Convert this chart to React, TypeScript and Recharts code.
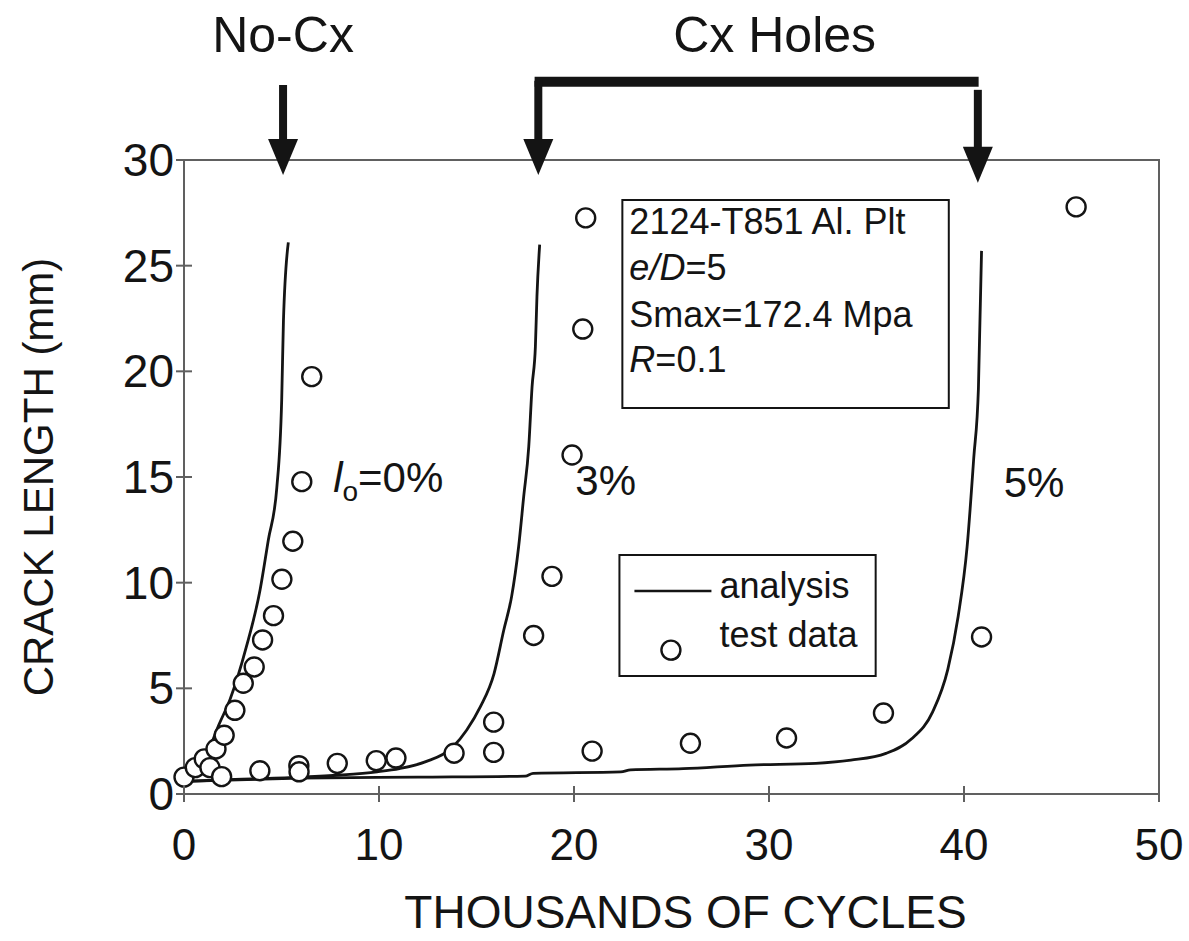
import React from 'react';
import {
  ComposedChart,
  Line,
  Scatter,
  XAxis,
  YAxis,
  ReferenceLine,
  ReferenceArea,
  ReferenceDot,
  Label,
} from 'recharts';

const FONT = '"Liberation Sans", Arial, Helvetica, sans-serif';
const INK = '#141414';
const FRAME = '#606060';

const xTicks = [0, 10, 20, 30, 40, 50];
const yTicks = [0, 5, 10, 15, 20, 25, 30];

// Analysis curves: crack length (mm) vs thousands of cycles
const cyclesIo0 = [0, 0.4, 1.0, 1.33, 1.8, 2.35, 3.2, 3.9, 4.32, 4.76, 5.01, 5.1, 5.35];
const lengthIo0 = [0.6, 0.85, 1.75, 2.24, 3.3, 4.45, 6.97, 9.65, 12.0, 14.5, 18.65, 22.4, 26.1];

const cyclesIo3 = [0, 3, 6, 8, 9.9, 11.05, 12.4, 13.8, 14.5, 15.2, 15.9, 16.4, 16.8, 17.16, 17.42, 17.68, 17.85, 18.02, 18.1, 18.24];
const lengthIo3 = [0.6, 0.7, 0.8, 0.9, 1.05, 1.2, 1.53, 2.24, 3.03, 4.13, 5.7, 7.76, 9.34, 11.7, 14.07, 16.44, 19.28, 21.17, 23.54, 26.0];

const cyclesIo5 = [0, 6, 12, 17.5, 17.9, 22.4, 22.9, 25.6, 29, 32.4, 34.2, 36, 37.3, 38.4, 39.17, 39.7, 40.16, 40.5, 40.74, 40.9];
const lengthIo5 = [0.6, 0.75, 0.8, 0.85, 0.98, 1.05, 1.14, 1.2, 1.37, 1.45, 1.6, 1.92, 2.6, 3.9, 5.9, 8.4, 11.7, 15.9, 19.2, 25.7];

// Test data
const testCycles = [
  0, 0.58, 1.04, 1.33, 1.64, 1.93, 2.06, 2.61, 3.04, 3.6, 3.89, 4.03, 4.59, 5.02, 5.58,
  5.89, 5.9, 6.04, 6.55, 7.86, 9.86, 10.87, 13.85, 15.88, 15.88, 17.93, 18.87, 19.9,
  20.45, 20.6, 20.93, 24.97, 25.97, 30.9, 35.87, 40.9, 45.75,
];
const testLength = [
  0.8, 1.25, 1.66, 1.25, 2.13, 0.82, 2.78, 3.96, 5.24, 6.01, 1.1, 7.29, 8.44, 10.16, 11.96,
  1.34, 1.05, 14.78, 19.75, 1.45, 1.58, 1.7, 1.93, 3.4, 1.97, 7.5, 10.3, 16.04,
  22.0, 27.26, 2.03, 6.81, 2.4, 2.65, 3.83, 7.43, 27.78,
];

const zip = (xs: number[], ys: number[]) => xs.map((x, i) => ({ x, y: ys[i] }));
const curveIo0 = zip(cyclesIo0, lengthIo0);
const curveIo3 = zip(cyclesIo3, lengthIo3);
const curveIo5 = zip(cyclesIo5, lengthIo5);
const testPoints = zip(testCycles, testLength);

const YTick = ({ x, y, payload }: any) => (
  <g>
    <line x1={x - 8} x2={x + 8} y1={y} y2={y} stroke={FRAME} strokeWidth={2} />
    <text x={x - 10} y={y + 16} textAnchor="end" fontSize={46} fontFamily={FONT} fill={INK}>
      {payload.value}
    </text>
  </g>
);

const XTick = ({ x, y, payload }: any) => (
  <g>
    <line x1={x} x2={x} y1={y - 8} y2={y + 8} stroke={FRAME} strokeWidth={2} />
    <text x={x} y={y + 66} textAnchor="middle" fontSize={44} fontFamily={FONT} fill={INK}>
      {payload.value}
    </text>
  </g>
);

const XTitle = ({ viewBox }: any) => (
  <text
    x={viewBox.x + viewBox.width / 2 + 14}
    y={viewBox.y + 134}
    textAnchor="middle"
    fontSize={46}
    fontFamily={FONT}
    fill={INK}
  >
    THOUSANDS OF CYCLES
  </text>
);

const YTitle = ({ viewBox }: any) => {
  const cx = viewBox.x - 145;
  const cy = viewBox.y + viewBox.height / 2;
  return (
    <text
      x={cx}
      y={cy}
      transform={`rotate(-90 ${cx} ${cy})`}
      textAnchor="middle"
      dominantBaseline="central"
      fontSize={42}
      fontFamily={FONT}
      fill={INK}
    >
      CRACK LENGTH (mm)
    </text>
  );
};

const Ring = (p: any) => (
  <circle cx={p.cx} cy={p.cy} r={9.5} fill="#fff" stroke={INK} strokeWidth={2.4} />
);

// Downward arrow drawn along a reference segment (tip at the second point)
const Arrow = (p: any) => {
  const { x1, y1, x2, y2 } = p;
  const head = 36;
  const half = 15;
  return (
    <g>
      <line x1={x1} y1={y1} x2={x2} y2={y2 - head + 2} stroke={INK} strokeWidth={8} />
      <polygon points={`${x2 - half},${y2 - head} ${x2 + half},${y2 - head} ${x2},${y2}`} fill={INK} />
    </g>
  );
};

const note = (content: React.ReactNode, anchor: 'start' | 'middle', size: number) => (p: any) => (
  <text x={p.cx} y={p.cy} textAnchor={anchor} fontSize={size} fontFamily={FONT} fill={INK}>
    {content}
  </text>
);

const SpecimenText = ({ viewBox }: any) => {
  const x = viewBox.x + 7;
  const y = viewBox.y;
  const common = { fontSize: 36, fontFamily: FONT, fill: INK };
  return (
    <g>
      <text x={x} y={y + 34} {...common}>2124-T851 Al. Plt</text>
      <text x={x} y={y + 80} {...common}>
        <tspan fontStyle="italic">e/D</tspan>=5
      </text>
      <text x={x} y={y + 127} {...common}>Smax=172.4 Mpa</text>
      <text x={x} y={y + 172} {...common}>
        <tspan fontStyle="italic">R</tspan>=0.1
      </text>
    </g>
  );
};

const LegendText = ({ viewBox }: any) => {
  const x = viewBox.x;
  const y = viewBox.y;
  const common = { fontSize: 36, fontFamily: FONT, fill: INK };
  return (
    <g>
      <line x1={x + 15} x2={x + 92} y1={y + 36} y2={y + 36} stroke={INK} strokeWidth={2.5} />
      <text x={x + 100} y={y + 43} {...common}>analysis</text>
      <circle cx={x + 53} cy={y + 97} r={7.5} fill="#fff" stroke={INK} strokeWidth={2.2} />
      <text x={x + 100} y={y + 92} {...common}>test data</text>
    </g>
  );
};

export default function App() {
  return (
    <div style={{ position: 'absolute', left: 0, top: 0, background: '#fff' }}>
      <ComposedChart
        width={1189}
        height={941}
        margin={{ top: 160, right: 30, bottom: 146, left: 183 }}
        style={{ background: '#fff' }}
      >
        <XAxis
          dataKey="x"
          type="number"
          domain={[0, 50]}
          ticks={xTicks}
          height={1}
          tickSize={0}
          tickMargin={0}
          tickLine={false}
          tick={<XTick />}
          axisLine={{ stroke: FRAME, strokeWidth: 2 }}
        >
          <Label content={<XTitle />} />
        </XAxis>
        <YAxis
          dataKey="y"
          type="number"
          domain={[0, 30]}
          ticks={yTicks}
          width={1}
          tickSize={0}
          tickMargin={0}
          tickLine={false}
          tick={<YTick />}
          axisLine={{ stroke: FRAME, strokeWidth: 2 }}
        >
          <Label content={<YTitle />} />
        </YAxis>

        {/* plot frame */}
        <ReferenceArea x1={0} x2={50} y1={0} y2={30} fill="none" stroke={FRAME} strokeWidth={2} />

        <Line data={curveIo0} dataKey="y" type="monotone" stroke={INK} strokeWidth={2.8} dot={false} isAnimationActive={false} />
        <Line data={curveIo3} dataKey="y" type="monotone" stroke={INK} strokeWidth={2.8} dot={false} isAnimationActive={false} />
        <Line data={curveIo5} dataKey="y" type="monotone" stroke={INK} strokeWidth={2.8} dot={false} isAnimationActive={false} />
        <Scatter data={testPoints} dataKey="y" shape={Ring} isAnimationActive={false} />

        {/* specimen box */}
        <ReferenceArea x1={22.48} x2={39.22} y1={18.27} y2={28.11} fill="#fff" fillOpacity={1} stroke={INK} strokeWidth={2}>
          <Label content={<SpecimenText />} />
        </ReferenceArea>

        {/* legend box */}
        <ReferenceArea x1={22.33} x2={35.47} y1={5.58} y2={11.31} fill="#fff" fillOpacity={1} stroke={INK} strokeWidth={2}>
          <Label content={<LegendText />} />
        </ReferenceArea>

        {/* curve labels */}
        <ReferenceDot
          x={7.65}
          y={14.29}
          r={0}
          ifOverflow="visible"
          shape={note(
            <>
              <tspan fontStyle="italic">l</tspan>
              <tspan fontSize={28} dy={9}>o</tspan>
              <tspan dy={-9}>=0%</tspan>
            </>,
            'start',
            42,
          )}
        />
        <ReferenceDot x={20.07} y={14.15} r={0} ifOverflow="visible" shape={note('3%', 'start', 42)} />
        <ReferenceDot x={42.04} y={14.06} r={0} ifOverflow="visible" shape={note('5%', 'start', 42)} />

        {/* group headings and arrows above the plot */}
        <ReferenceDot x={5.08} y={35.1} r={0} ifOverflow="visible" shape={note('No-Cx', 'middle', 50)} />
        <ReferenceDot x={30.29} y={35.1} r={0} ifOverflow="visible" shape={note('Cx Holes', 'middle', 50)} />

        <ReferenceLine
          segment={[{ x: 5.08, y: 33.55 }, { x: 5.08, y: 29.29 }]}
          ifOverflow="visible"
          shape={Arrow}
        />
        <ReferenceLine
          segment={[{ x: 17.98, y: 33.7 }, { x: 40.75, y: 33.7 }]}
          ifOverflow="visible"
          stroke={INK}
          strokeWidth={10}
        />
        <ReferenceLine
          segment={[{ x: 18.17, y: 33.75 }, { x: 18.17, y: 29.29 }]}
          ifOverflow="visible"
          shape={Arrow}
        />
        <ReferenceLine
          segment={[{ x: 40.71, y: 33.32 }, { x: 40.71, y: 28.92 }]}
          ifOverflow="visible"
          shape={Arrow}
        />
      </ComposedChart>
    </div>
  );
}
